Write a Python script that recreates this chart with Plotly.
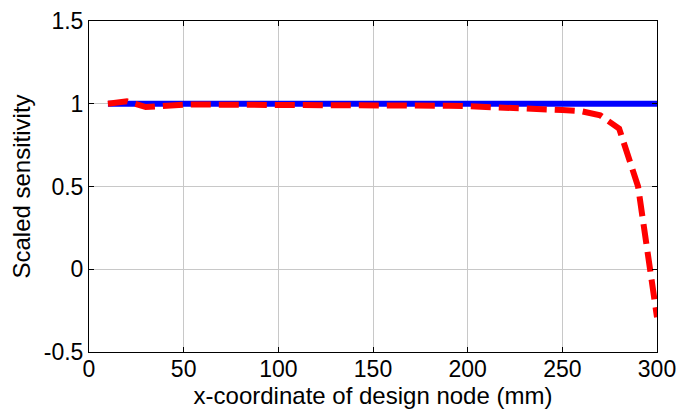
import plotly.graph_objects as go

# design node x-coordinates (mm)
x_nodes = [10, 20, 30, 40, 50, 60, 70, 80, 90, 100, 110, 120, 130, 140, 150,
           160, 170, 180, 190, 200, 210, 220, 230, 240, 250, 260, 270, 280, 290, 300]

# reference sensitivity (scaled)
sens_ref = [1.0] * len(x_nodes)

# computed sensitivity (scaled)
sens_calc = [1.0, 1.015, 0.98, 0.99, 0.995, 0.995, 0.995, 0.995, 0.995, 0.995,
             0.995, 0.995, 0.995, 0.993, 0.993, 0.99, 0.99, 0.99, 0.988, 0.985,
             0.982, 0.978, 0.974, 0.968, 0.962, 0.955, 0.93, 0.85, 0.5, -0.29]

FONT = "Liberation Sans, Arial"

fig = go.Figure()
fig.add_trace(go.Scatter(x=x_nodes, y=sens_ref, mode="lines",
                         line=dict(color="#0000ff", width=6)))
fig.add_trace(go.Scatter(x=x_nodes, y=sens_calc, mode="lines",
                         line=dict(color="#ff0000", width=6, dash="20px,8px")))

axis_common = dict(
    showline=True, linecolor="black", linewidth=1, mirror="allticks",
    ticks="inside", ticklen=5, tickcolor="black",
    showgrid=True, gridcolor="#c8c8c8", gridwidth=1,
    zeroline=False, automargin=False,
    tickfont=dict(family=FONT, size=23, color="black"),
    title_font=dict(family=FONT, size=24, color="black"),
)

fig.update_xaxes(range=[0, 300], tickvals=[0, 50, 100, 150, 200, 250, 300],
                 ticklabelstandoff=-4,
                 title_text="x-coordinate of design node (mm)", title_standoff=6,
                 **axis_common)
fig.update_yaxes(range=[-0.5, 1.5], tickvals=[-0.5, 0, 0.5, 1, 1.5],
                 ticktext=["-0.5", "0", "0.5", "1", "1.5"],
                 title_text="Scaled sensitivity", title_standoff=6,
                 **axis_common)

fig.update_layout(
    width=679, height=409,
    margin=dict(l=89, r=22, t=21, b=57, autoexpand=False),
    plot_bgcolor="white", paper_bgcolor="white",
    showlegend=False,
)

fig.write_html("out.html")
